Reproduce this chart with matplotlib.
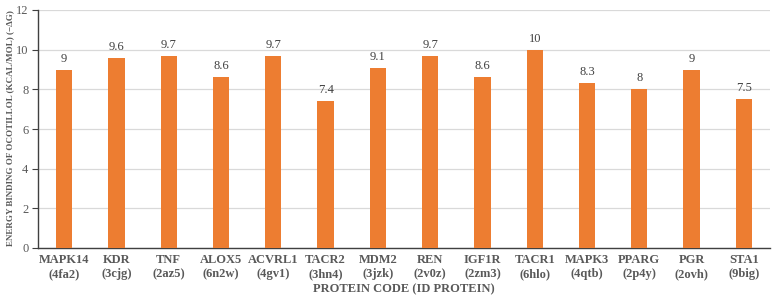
import matplotlib
matplotlib.use("Agg")
import matplotlib.pyplot as plt
import numpy as np

proteins = ["MAPK14", "KDR", "TNF", "ALOX5", "ACVRL1", "TACR2", "MDM2", "REN",
            "IGF1R", "TACR1", "MAPK3", "PPARG", "PGR", "STA1"]
pdb_ids = ["4fa2", "3cjg", "2az5", "6n2w", "4gv1", "3hn4", "3jzk", "2v0z",
           "2zm3", "6hlo", "4qtb", "2p4y", "2ovh", "9big"]
energies = [9, 9.6, 9.7, 8.6, 9.7, 7.4, 9.1, 9.7, 8.6, 10, 8.3, 8, 9, 7.5]
value_labels = ["9", "9.6", "9.7", "8.6", "9.7", "7.4", "9.1", "9.7", "8.6", "10", "8.3", "8", "9", "7.5"]

plt.rcParams['font.family'] = ['Liberation Serif', 'DejaVu Serif']

fig = plt.figure(figsize=(7.77, 3.0), dpi=100)
ax = fig.add_axes([38/777, 52/300, 732/777, 238/300])

x = np.arange(len(proteins))
bars = ax.bar(x, energies, width=0.31, color="#ED7D31", zorder=3)
for xi, v, lab in zip(x, energies, value_labels):
    ax.text(xi, v + 0.25, lab, ha="center", va="bottom", fontsize=9, color="#404040")

ax.set_xlim(-0.5, len(proteins) - 0.5)
ax.set_ylim(0, 12)
ax.set_yticks(range(0, 13, 2))
ax.yaxis.grid(True, color="#D9D9D9", linewidth=0.9, zorder=0)
ax.set_axisbelow(True)
ax.set_xticks(x)
ax.set_xticklabels([f"{p}\n({c})" for p, c in zip(proteins, pdb_ids)],
                   fontsize=9, fontweight="bold", color="#595959", linespacing=1.3)
ax.tick_params(axis="x", length=0, pad=4)
ax.tick_params(axis="y", length=4, width=0.8, color="#404040", labelsize=9, labelcolor="#595959", pad=3)
for s in ["top", "right"]:
    ax.spines[s].set_visible(False)
ax.spines["left"].set_color("#404040")
ax.spines["bottom"].set_color("#404040")
ax.spines["left"].set_linewidth(1.0)
ax.spines["bottom"].set_linewidth(1.0)

ax.set_xlabel("PROTEIN CODE (ID PROTEIN)", fontsize=9, fontweight="bold", color="#595959", labelpad=2)

ylab = fig.text(10/777, 172/300, "ENERGY BINDING OF OCOTILLOL (KCAL/MOL) (−ΔG)", rotation=90,
                ha="center", va="center", fontsize=8, fontweight="bold", color="#595959")
fig.canvas.draw()
r = fig.canvas.get_renderer()
h = ylab.get_window_extent(r).height
ylab.set_fontsize(8 * 236 / h)

fig.savefig("out.png", dpi=100)
